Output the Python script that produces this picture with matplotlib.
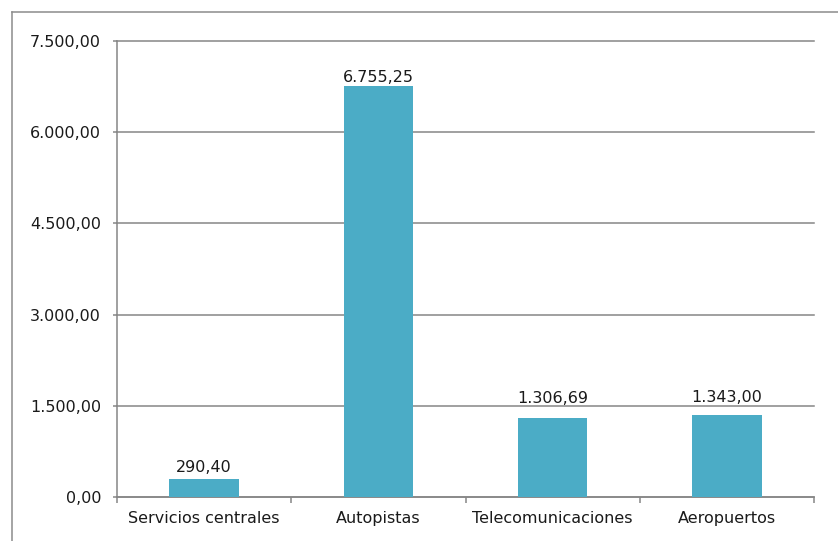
import matplotlib
matplotlib.use("Agg")
import matplotlib.pyplot as plt
from matplotlib.lines import Line2D
import numpy as np

categories = ["Servicios centrales", "Autopistas", "Telecomunicaciones", "Aeropuertos"]
values = [290.40, 6755.25, 1306.69, 1343.00]
y_ticks = [0, 1500, 3000, 4500, 6000, 7500]

BAR = "#4BACC6"
GRID = "#868686"
FRAME = "#8C8C8C"
TEXT = "#1a1a1a"
FS = 11.5

# vertical gap (px) between each bar top and its value label baseline
label_gap_px = [7, 4, 14.5, 13.5]


def es_format(v):
    s = f"{v:,.2f}"
    return s.replace(",", "X").replace(".", ",").replace("X", ".")


W, H = 838, 541
fig = plt.figure(figsize=(W / 100, H / 100), dpi=100)
plt.rcParams["font.family"] = ["DejaVu Sans"]

ax = fig.add_axes([117 / W, 1 - 497 / H, 697 / W, 456 / H])

x = np.arange(len(categories))
ax.bar(x, values, width=0.4, color=BAR, zorder=3)

for xi, v, gap in zip(x, values, label_gap_px):
    ax.annotate(es_format(v), (xi, v), xytext=(0, gap * 0.72), textcoords="offset points",
                ha="center", va="baseline", fontsize=FS, color=TEXT, zorder=4)

ax.set_xlim(-0.5, len(categories) - 0.5)
ax.set_ylim(0, 7500)
ax.set_yticks(y_ticks)
ax.set_yticklabels([es_format(t) for t in y_ticks], fontsize=FS, color=TEXT)
ax.yaxis.grid(True, color=GRID, linewidth=1.1, zorder=0)
ax.set_axisbelow(True)
for gl in ax.get_ygridlines():
    gl.set_clip_on(False)

ax.set_xticks(x)
ax.set_xticklabels(categories, fontsize=FS, color=TEXT)
ax.set_xticks(np.arange(-0.5, len(categories)), minor=True)
ax.tick_params(axis="x", which="major", length=0, pad=10)
ax.tick_params(axis="x", which="minor", length=4, width=1.1, color=GRID, direction="out")
ax.tick_params(axis="y", length=3, width=1.1, color=GRID, pad=8.5)

for side in ("top", "right"):
    ax.spines[side].set_visible(False)
for side in ("left", "bottom"):
    ax.spines[side].set_color(GRID)
    ax.spines[side].set_linewidth(1.1)

# outer chart border (left and top edges)
fig.add_artist(Line2D([12 / W, 12 / W], [0, 1 - 12 / H], transform=fig.transFigure,
                      color=FRAME, linewidth=1.1))
fig.add_artist(Line2D([12 / W, 1], [1 - 12 / H, 1 - 12 / H], transform=fig.transFigure,
                      color=FRAME, linewidth=1.1))

fig.savefig("out.png", dpi=100, facecolor="white")
